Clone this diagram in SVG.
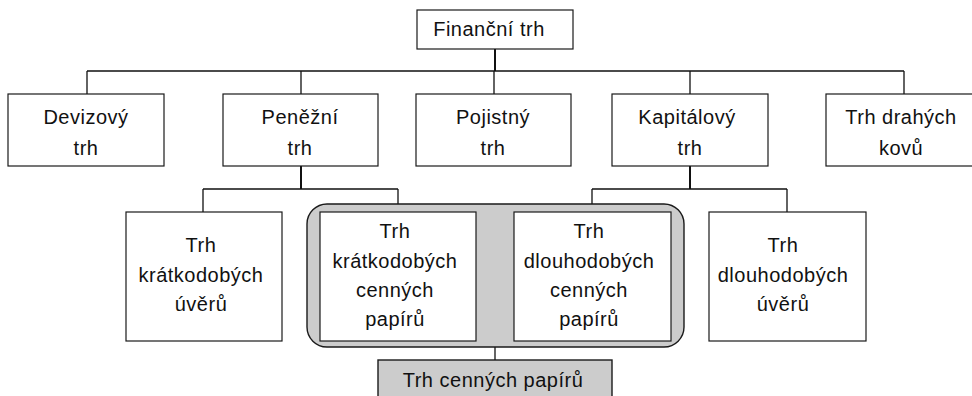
<svg xmlns="http://www.w3.org/2000/svg" width="972" height="396" viewBox="0 0 972 396">
<style>
.box{fill:#fff;stroke:#1a1a1a;stroke-width:1.2}
.gray{fill:#cccccc;stroke:#1a1a1a;stroke-width:1.4}
.ln{fill:none;stroke:#111;stroke-width:1.3}
.stem{fill:none;stroke:#111;stroke-width:2}
text{font-family:"Liberation Sans",Arial,sans-serif;font-size:20px;letter-spacing:0.5px;fill:#111;text-anchor:middle}
</style>
<rect width="972" height="396" fill="#fff"/>
<g id="connectors">
<path class="stem" d="M495 49V71"/>
<path class="ln" d="M87 71H904M87 71V94M301 71V94M494 71V94M690 71V94M904 71V94"/>
<path class="stem" d="M301 166V189M690 166V189"/>
<path class="ln" d="M203 189H398M203 189V212M398 189V212M592 189H787M592 189V212M787 189V212"/>
<path class="ln" d="M495 347V360"/>
</g>
<g id="group-cenne-papiry">
<rect class="gray" x="307" y="204" width="377" height="143" rx="20"/>
</g>
<g id="n-financni">
<rect class="box" x="417" y="10" width="156" height="39"/>
<text x="489" y="36">Finanční trh</text>
</g>
<g id="n-devizovy">
<rect class="box" x="8" y="94" width="156" height="72"/>
<text x="86" y="124">Devizový</text><text x="86" y="155">trh</text>
</g>
<g id="n-penezni">
<rect class="box" x="223" y="94" width="155" height="72"/>
<text x="300" y="124">Peněžní</text><text x="300" y="155">trh</text>
</g>
<g id="n-pojistny">
<rect class="box" x="416" y="94" width="155" height="72"/>
<text x="493" y="124">Pojistný</text><text x="493" y="155">trh</text>
</g>
<g id="n-kapitalovy">
<rect class="box" x="612" y="94" width="156" height="72"/>
<text x="687" y="124">Kapitálový</text><text x="690" y="155">trh</text>
</g>
<g id="n-drahe-kovy">
<rect class="box" x="826" y="94" width="156" height="72"/>
<text x="901" y="124">Trh drahých</text><text x="901" y="155">kovů</text>
</g>
<g id="n-kratke-uvery">
<rect class="box" x="126" y="212" width="156" height="129"/>
<text x="201" y="252">Trh</text><text x="201" y="281.5">krátkodobých</text><text x="201" y="311">úvěrů</text>
</g>
<g id="n-kratke-cp">
<rect class="box" x="320" y="212" width="156" height="129"/>
<text x="395" y="238">Trh</text><text x="395" y="267.5">krátkodobých</text><text x="395" y="296.5">cenných</text><text x="395" y="325.5">papírů</text>
</g>
<g id="n-dlouhe-cp">
<rect class="box" x="514" y="212" width="157" height="129"/>
<text x="589" y="238">Trh</text><text x="589" y="267.5">dlouhodobých</text><text x="589" y="296.5">cenných</text><text x="589" y="325.5">papírů</text>
</g>
<g id="n-dlouhe-uvery">
<rect class="box" x="709" y="212" width="157" height="129"/>
<text x="783" y="252">Trh</text><text x="783" y="281.5">dlouhodobých</text><text x="783" y="311">úvěrů</text>
</g>
<g id="n-trh-cp">
<rect class="gray" x="378" y="360" width="234" height="45"/>
<text x="493" y="387">Trh cenných papírů</text>
</g>
</svg>
